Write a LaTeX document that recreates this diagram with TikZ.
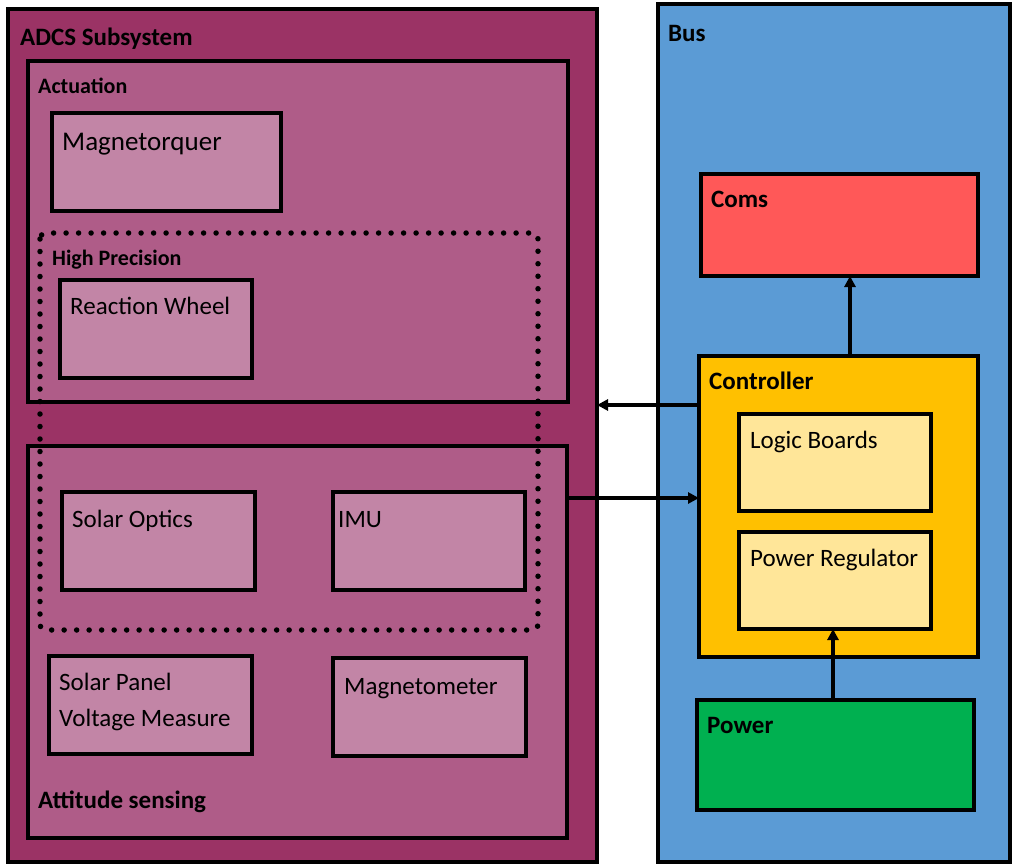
\documentclass[tikz,border=0pt]{standalone}
\usepackage{fontspec}
\setmainfont{Carlito}
\usetikzlibrary{arrows.meta,calc}
\definecolor{adcsC}{RGB}{155,51,101}
\definecolor{actC}{RGB}{175,92,136}
\definecolor{innC}{RGB}{194,133,166}
\definecolor{busC}{RGB}{91,155,213}
\definecolor{comsC}{RGB}{255,88,88}
\definecolor{ctrlC}{RGB}{255,192,0}
\definecolor{ylwC}{RGB}{255,230,153}
\definecolor{pwrC}{RGB}{0,176,80}
\tikzset{
  blk/.style={draw=black, line width=3.5pt, rectangle, inner sep=0pt, outer sep=0pt},
  ttl/.style={font=\fontsize{25}{28}\selectfont\bfseries, anchor=base west, inner sep=0pt},
  sttl/.style={font=\fontsize{22}{25}\selectfont\bfseries, anchor=base west, inner sep=0pt},
  lbl/.style={font=\fontsize{25}{28}\selectfont, anchor=base west, inner sep=0pt},
  arr/.style={line width=3.5pt, -{Triangle[length=11pt,width=11pt]}},
  dotbox/.style={draw=black, line width=5.5pt, line cap=round, dash pattern=on 0pt off 12.5pt, rounded corners=6pt}
}
\begin{document}
\begin{tikzpicture}[x=1pt,y=-1pt]
\useasboundingbox[fill=white] (0,0) rectangle (1012,865);
% ADCS side
\node[blk, fill=adcsC, minimum width=589pt, minimum height=853pt] (adcs) at (302.5,435.5) {};
\node[ttl] (adcsT) at (20,45) {ADCS Subsystem};
\node[blk, fill=actC, minimum width=540pt, minimum height=341pt] (act) at (298,231.5) {};
\node[sttl] (actT) at (38,93) {Actuation};
\node[blk, fill=innC, minimum width=229pt, minimum height=98pt] (mag) at (166.5,162) {};
\node[lbl, font=\fontsize{27}{30}\selectfont] (magT) at (62,150) {Magnetorquer};
\node[blk, fill=actC, minimum width=539pt, minimum height=392pt] (att) at (297.5,642) {};
\node[ttl] (attT) at (38,808) {Attitude sensing};
\node[blk, fill=innC, minimum width=192pt, minimum height=98pt] (rw) at (156,329) {};
\node[lbl] (rwT) at (70,314) {Reaction Wheel};
\node[blk, fill=innC, minimum width=193pt, minimum height=98pt] (so) at (158.5,541) {};
\node[lbl] (soT) at (72,527) {Solar Optics};
\node[blk, fill=innC, minimum width=192pt, minimum height=98pt] (imu) at (429,541) {};
\node[lbl] (imuT) at (338,527) {IMU};
\node[blk, fill=innC, minimum width=203pt, minimum height=98pt] (sp) at (150.5,705) {};
\node[lbl] (spT1) at (59,690) {Solar Panel};
\node[lbl] (spT2) at (59,726) {Voltage Measure};
\node[blk, fill=innC, minimum width=193pt, minimum height=98pt] (mgm) at (429.5,707) {};
\node[lbl] (mgmT) at (344,694) {Magnetometer};
% high precision dotted group
\draw[dotbox] (40,233) rectangle (538,630);
\node[sttl] (hpT) at (52,265) {High Precision};
% Bus side
\node[blk, fill=busC, minimum width=352pt, minimum height=858pt] (bus) at (834,433) {};
\node[ttl] (busT) at (668,41) {Bus};
\node[blk, fill=comsC, minimum width=277pt, minimum height=102pt] (coms) at (839.5,225) {};
\node[ttl] (comsT) at (711,207) {Coms};
\node[blk, fill=ctrlC, minimum width=279pt, minimum height=301pt] (ctrl) at (838.5,506.5) {};
\node[ttl] (ctrlT) at (709,389) {Controller};
\node[blk, fill=ylwC, minimum width=192pt, minimum height=97pt] (lb) at (835,462.5) {};
\node[lbl] (lbT) at (750,448) {Logic Boards};
\node[blk, fill=ylwC, minimum width=192pt, minimum height=97pt] (preg) at (835,580.5) {};
\node[lbl] (pregT) at (750,566) {Power Regulator};
\node[blk, fill=pwrC, minimum width=277pt, minimum height=110pt] (pwr) at (835.5,755) {};
\node[ttl] (pwrT) at (707,733) {Power};
% connectors
\coordinate (c1) at ([yshift=101.5pt]ctrl.west);
\draw[arr] (c1) -- (c1 -| adcs.east);
\coordinate (c2) at ([yshift=144pt]att.east);
\draw[arr] (c2) -- (c2 -| ctrl.west);
\coordinate (c3) at ([xshift=11.5pt]ctrl.north);
\draw[arr] (c3) -- (c3 |- coms.south);
\coordinate (c4) at ([xshift=-2.5pt]pwr.north);
\draw[arr] (c4) -- (c4 |- preg.south);
\end{tikzpicture}
\end{document}
